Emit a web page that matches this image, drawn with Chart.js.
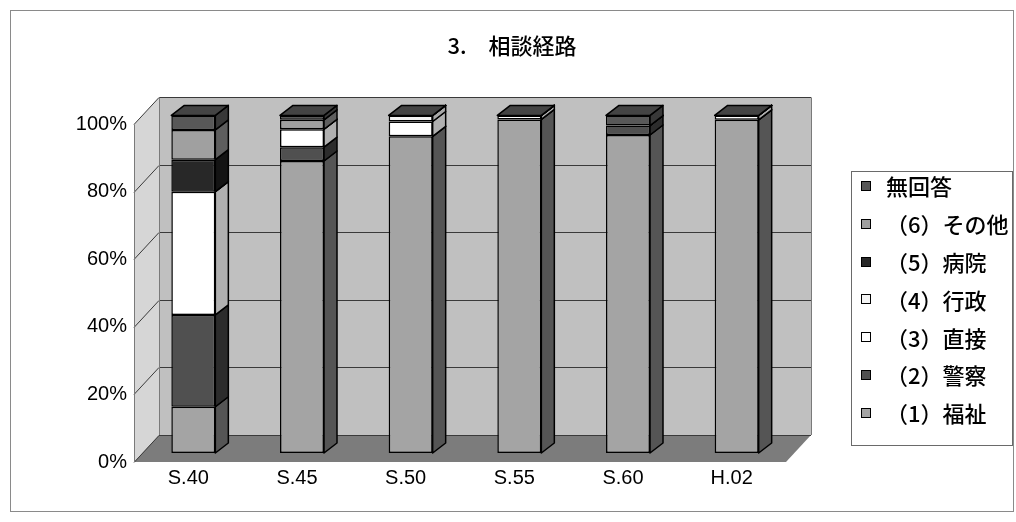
<!DOCTYPE html>
<html>
<head>
<meta charset="utf-8">
<title>相談経路</title>
<script src="https://cdn.jsdelivr.net/npm/chart.js@4/dist/chart.umd.min.js"></script>
<style>
  html, body { margin: 0; padding: 0; background: #ffffff; }
  #wrap { width: 1016px; height: 522px; }
</style>
</head>
<body>
<div id="wrap"><canvas id="chart" width="1016" height="522"></canvas></div>
<script>
// Survey years (Showa / Heisei)
const categories = ['S.40', 'S.45', 'S.50', 'S.55', 'S.60', 'H.02'];

// Share of each referral route, percent (stack order: bottom to top)
const fukushi    = [13.7, 86.5, 93.8, 98.8, 94.2, 98.7];  // (1)福祉
const keisatsu   = [27.2,  4.1,  0.0,  0.0,  2.8,  0.0];  // (2)警察
const chokusetsu = [36.5,  5.3,  4.4,  1.2,  0.0,  1.3];  // (3)直接
const gyosei     = [ 0.0,  0.0,  1.8,  0.0,  0.0,  0.0];  // (4)行政
const byoin      = [ 9.5,  0.0,  0.0,  0.0,  0.0,  0.0];  // (5)病院
const sonota     = [ 8.8,  2.8,  0.0,  0.0,  0.0,  0.0];  // (6)その他
const mukaito    = [ 4.3,  1.3,  0.0,  0.0,  3.0,  0.0];  // 無回答

const seriesLabels = ['（1）福祉', '（2）警察', '（3）直接', '（4）行政', '（5）病院', '（6）その他', '無回答'];
const yTicks = [0, 20, 40, 60, 80, 100];
const chartTitle = '3.　相談経路';

// Face colours for the pseudo-3D columns
const frontColors = ['#a4a4a4', '#505050', '#ffffff', '#f4f4f4', '#282828', '#a0a0a0', '#585858'];
const sideColors  = ['#555555', '#2c2c2c', '#b0b0b0', '#a8a8a8', '#141414', '#5e5e5e', '#383838'];
const topColor = '#444444';

// Geometry of the 3D look (pixels)
const wallDepth = { dx: 25, dy: -27 };
const barShift  = { dx: 5,  dy: -9 };
const barDepth  = { dx: 13, dy: -10 };

const JP_FONT = "'Noto Sans CJK JP', 'Noto Sans', sans-serif";
const NUM_FONT = "'Liberation Sans', Arial, sans-serif";

function poly(ctx, pts, fill, stroke, lw) {
  ctx.beginPath();
  ctx.moveTo(pts[0][0], pts[0][1]);
  for (let i = 1; i < pts.length; i++) ctx.lineTo(pts[i][0], pts[i][1]);
  ctx.closePath();
  if (fill) { ctx.fillStyle = fill; ctx.fill(); }
  if (stroke) { ctx.strokeStyle = stroke; ctx.lineWidth = lw || 1; ctx.stroke(); }
}

// Walls, floor and gridlines behind the columns; side and top faces of the columns
const scene3d = {
  id: 'scene3d',
  beforeDatasetsDraw(chart) {
    const { ctx, chartArea: a, scales } = chart;
    const y = scales.y;
    const L = a.left, R = a.right, T = a.top, B = a.bottom;
    const dx = wallDepth.dx, dy = wallDepth.dy;
    ctx.save();
    // back wall
    poly(ctx, [[L + dx, T + dy], [R + dx, T + dy], [R + dx, B + dy], [L + dx, B + dy]], '#c0c0c0');
    // left side wall
    poly(ctx, [[L, T], [L + dx, T + dy], [L + dx, B + dy], [L, B]], '#d6d6d6');
    // floor
    poly(ctx, [[L, B], [R, B], [R + dx, B + dy], [L + dx, B + dy]], '#7c7c7c');
    // gridlines across the side wall and back wall
    ctx.strokeStyle = '#3a3a3a';
    ctx.lineWidth = 1;
    yTicks.forEach(v => {
      const py = Math.round(y.getPixelForValue(v)) + 0.5;
      ctx.beginPath();
      ctx.moveTo(L, py);
      ctx.lineTo(L + dx, py + dy);
      ctx.lineTo(R + dx, py + dy);
      ctx.stroke();
    });
    // wall edges
    ctx.strokeStyle = '#7a7a7a';
    ctx.beginPath();
    ctx.moveTo(L + 0.5, T); ctx.lineTo(L + 0.5, B);
    ctx.moveTo(L + dx + 0.5, T + dy); ctx.lineTo(L + dx + 0.5, B + dy);
    ctx.moveTo(R + dx + 0.5, T + dy); ctx.lineTo(R + dx + 0.5, B + dy);
    ctx.stroke();
    ctx.restore();

    // columns sit a little behind the axis plane
    ctx.save();
    ctx.translate(barShift.dx, barShift.dy);
  },
  afterDatasetsDraw(chart) {
    const ctx = chart.ctx;
    const n = chart.data.datasets.length;
    ctx.lineJoin = 'round';
    for (let i = 0; i < n; i++) {
      const meta = chart.getDatasetMeta(i);
      meta.data.forEach(el => {
        const p = el.getProps(['x', 'y', 'base', 'width'], true);
        const r = p.x + p.width / 2;
        poly(ctx, [[r, p.y], [r + barDepth.dx, p.y + barDepth.dy],
                   [r + barDepth.dx, p.base + barDepth.dy], [r, p.base]],
             sideColors[i], '#000000', 1.5);
      });
    }
    const top = chart.getDatasetMeta(n - 1);
    top.data.forEach(el => {
      const p = el.getProps(['x', 'y', 'base', 'width'], true);
      const l = p.x - p.width / 2, r = p.x + p.width / 2;
      poly(ctx, [[l, p.y], [l + barDepth.dx, p.y + barDepth.dy],
                 [r + barDepth.dx, p.y + barDepth.dy], [r, p.y]],
           topColor, '#000000', 1.5);
    });
    ctx.restore();
  },
  afterDraw(chart) {
    const ctx = chart.ctx;
    ctx.save();
    // outer frame
    ctx.strokeStyle = '#8a8a8a';
    ctx.lineWidth = 1;
    ctx.strokeRect(10.5, 10.5, 1003, 501);
    // legend box
    ctx.strokeStyle = '#6a6a6a';
    ctx.strokeRect(851.5, 171.5, 161, 274);
    // legend entries, top entry is the last series
    const ds = chart.data.datasets;
    ctx.font = '500 22px ' + JP_FONT;
    ctx.textBaseline = 'middle';
    ctx.textAlign = 'left';
    for (let k = 0; k < ds.length; k++) {
      const i = ds.length - 1 - k;
      const cy = 186 + k * 37.8;
      ctx.fillStyle = ds[i].backgroundColor;
      ctx.fillRect(861, Math.round(cy - 5), 10, 10);
      ctx.strokeStyle = '#000000';
      ctx.lineWidth = 1;
      ctx.strokeRect(861.5, Math.round(cy - 5) + 0.5, 9, 9);
      ctx.fillStyle = '#000000';
      ctx.fillText(ds[i].label, 886, cy + 1);
    }
    ctx.restore();
  }
};

const seriesValues = [fukushi, keisatsu, chokusetsu, gyosei, byoin, sonota, mukaito];

const datasets = seriesValues.map((vals, i) => ({
  label: seriesLabels[i],
  data: vals,
  backgroundColor: frontColors[i],
  borderColor: '#000000',
  borderWidth: 1.5,
  borderSkipped: false,
  categoryPercentage: 1.0,
  barPercentage: 0.405,
  clip: false
}));

Chart.defaults.font.family = NUM_FONT;
Chart.defaults.color = '#000000';

new Chart(document.getElementById('chart'), {
  type: 'bar',
  data: { labels: categories, datasets },
  options: {
    responsive: false,
    animation: false,
    devicePixelRatio: 1,
    layout: { padding: { left: 8, right: 0, top: 0, bottom: 0 } },
    plugins: {
      legend: { display: false },
      tooltip: { enabled: false },
      title: {
        display: true,
        text: chartTitle,
        color: '#000000',
        font: { family: JP_FONT, size: 22, weight: '500' },
        padding: { top: 32, bottom: 66 }
      }
    },
    scales: {
      x: {
        stacked: true,
        grid: { display: false, drawTicks: false },
        border: { display: false },
        ticks: { font: { size: 20 }, padding: 4, color: '#000000' },
        afterFit(scale) { scale.height = 60; }
      },
      y: {
        stacked: true,
        min: 0,
        max: 100,
        grid: { display: false, drawTicks: false },
        border: { display: false },
        ticks: {
          stepSize: 20,
          padding: 7,
          font: { size: 20 },
          color: '#000000',
          callback: v => v + '%'
        },
        afterFit(scale) { scale.width = 126; }
      },
      // empty right-hand band that holds the legend area
      side: {
        type: 'linear',
        position: 'right',
        display: true,
        grid: { display: false, drawTicks: false },
        border: { display: false },
        ticks: { display: false },
        afterFit(scale) { scale.width = 230; }
      }
    }
  },
  plugins: [scene3d]
});
</script>
</body>
</html>
